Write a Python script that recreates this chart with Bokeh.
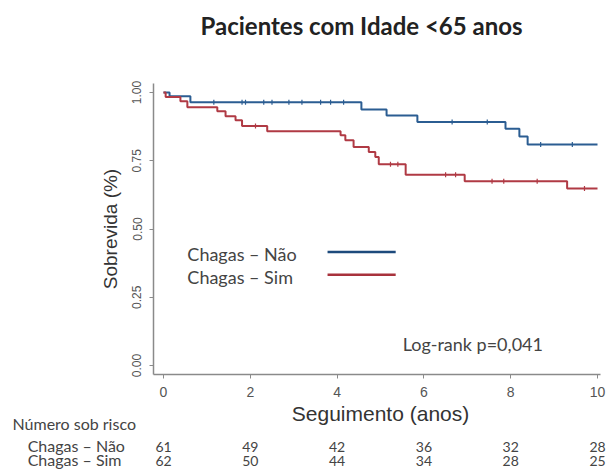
import numpy as np
from bokeh.plotting import figure
from bokeh.models import Range1d, FixedTicker, Label
from bokeh.core.properties import value
from bokeh.embed import file_html
from bokeh.resources import INLINE

# ---- data ----
title = "Pacientes com Idade <65 anos"
groups = ["Chagas – Não", "Chagas – Sim"]

nao_t = [0, 0.14, 0.62, 4.56, 5.14, 5.85, 7.88, 8.20, 8.39, 10.0]
nao_s = [1.0, 0.986, 0.964, 0.938, 0.916, 0.892, 0.867, 0.839, 0.810, 0.810]
nao_cens = [1.16, 1.81, 1.89, 2.31, 2.50, 2.89, 3.19, 3.62, 3.85, 4.15, 6.65, 7.46, 8.69, 9.42]

sim_t = [0, 0.05, 0.39, 0.55, 1.24, 1.43, 1.66, 1.81, 2.39, 4.08, 4.19, 4.38,
         4.73, 4.88, 4.96, 5.58, 6.94, 9.30, 10.0]
sim_s = [1.0, 0.984, 0.968, 0.946, 0.931, 0.913, 0.898, 0.877, 0.858, 0.843, 0.825,
         0.800, 0.782, 0.764, 0.737, 0.699, 0.675, 0.648, 0.648]
sim_cens = [2.12, 5.23, 5.40, 6.50, 6.73, 7.57, 7.84, 8.61, 9.70]

x_ticks = [0, 2, 4, 6, 8, 10]
y_ticks = [0.0, 0.25, 0.5, 0.75, 1.0]
risk_nao = [61, 49, 42, 36, 32, 28]
risk_sim = [62, 50, 44, 34, 28, 25]
logrank = "Log-rank p=0,041"
x_label = "Seguimento (anos)"
y_label = "Sobrevida (%)"
risk_title = "Número sob risco"

BLUE = "#2b5d92"
RED = "#b03a44"
BLUE_L = "#1d4a7c"
RED_L = "#a8323c"
FONT = "Lato"
AFONT = "Liberation Sans"

W = 608
H0 = 50     # title strip
H1 = 349    # plot
H2 = 71     # x title + number-at-risk table


def blank(fig):
    fig.grid.visible = False
    fig.outline_line_color = None
    fig.background_fill_color = "white"
    fig.border_fill_color = "white"


# ---- title strip ----
t = figure(width=W, height=H0, output_backend="svg", toolbar_location=None,
           x_range=Range1d(0, W), y_range=Range1d(H0, 0),
           x_axis_location=None, y_axis_location=None,
           min_border_left=0, min_border_right=0, min_border_top=0, min_border_bottom=0)
blank(t)
t.text(x=[200], y=[25], text=[title], text_font=value(FONT), text_font_size="24px",
       text_font_style="bold", text_color="#222222", text_align="left", text_baseline="middle")

# ---- main plot ----
p = figure(width=W, height=H1, output_backend="svg", toolbar_location=None,
           x_range=Range1d(-0.230, 10.069), y_range=Range1d(-0.033, 1.033),
           min_border_left=153, min_border_right=8, min_border_top=33, min_border_bottom=24)
blank(p)


def surv_at(ts, ss, tt):
    i = np.searchsorted(ts, tt, side="right") - 1
    return ss[i]


for ts, ss, cens, col in [(nao_t, nao_s, nao_cens, BLUE), (sim_t, sim_s, sim_cens, RED)]:
    p.step(ts, ss, mode="after", line_color=col, line_width=2)
    cy = [surv_at(np.array(ts), ss, c) for c in cens]
    p.scatter(cens, cy, marker="dash", angle=np.pi / 2, size=5, line_color=col, line_width=1.2)

ax = p.xaxis[0]
ax.ticker = FixedTicker(ticks=x_ticks)
ay = p.yaxis[0]
ay.ticker = FixedTicker(ticks=y_ticks)
ay.major_label_overrides = {tk: f"{tk:.2f}" for tk in y_ticks}
ay.major_label_orientation = "vertical"
ay.axis_label = y_label
for a in (ax, ay):
    a.axis_line_color = "#8a8a8a"
    a.axis_line_width = 1.5
    a.major_tick_line_color = "#8a8a8a"
    a.major_tick_out = 4
    a.major_tick_in = 0
    a.minor_tick_line_color = None
    a.major_label_text_font = AFONT
    a.major_label_text_color = "#555555"
    a.axis_label_text_font = AFONT
    a.axis_label_text_font_size = "19px"
    a.axis_label_text_font_style = "normal"
    a.axis_label_text_color = "#333333"
ax.major_label_text_font_size = "14px"
ay.major_label_text_font_size = "12px"
ax.major_label_standoff = 8
ay.major_label_standoff = 8
ay.axis_label_standoff = 9

# legend (label, then line)
for g, yy, col in [(groups[0], 0.409, BLUE_L), (groups[1], 0.325, RED_L)]:
    p.add_layout(Label(x=0.55, y=yy, text=g, text_font=FONT, text_font_size="18px",
                       text_color="#444444", text_baseline="middle"))
    p.segment(x0=[3.78], y0=[yy + 0.007], x1=[5.35], y1=[yy + 0.007], line_color=col, line_width=2.5)

p.add_layout(Label(x=5.51, y=0.077, text=logrank, text_font=FONT, text_font_size="18px",
                   text_color="#444444", text_baseline="middle"))

# ---- lower strip: x-axis title and number-at-risk table (pixel coordinates) ----
Y0 = H0 + H1
q = figure(width=W, height=H2, output_backend="svg", toolbar_location=None,
           x_range=Range1d(-3.756, 10.253), y_range=Range1d(Y0 + H2, Y0),
           x_axis_location=None, y_axis_location=None,
           min_border_left=0, min_border_right=0, min_border_top=0, min_border_bottom=0)
blank(q)

q.text(x=[5.0], y=[413], text=[x_label], text_font=value(AFONT), text_font_size="21px",
       text_color="#333333", text_align="center", text_baseline="middle")
q.text(x=[-3.48], y=[423], text=[risk_title], text_font=value(FONT), text_font_size="16px",
       text_color="#444444", text_align="left", text_baseline="middle")
q.text(x=[-3.13, -3.13], y=[445, 459], text=groups, text_font=value(FONT), text_font_size="16px",
       text_color="#444444", text_align="left", text_baseline="middle")
q.text(x=x_ticks, y=[446] * len(x_ticks), text=[str(v) for v in risk_nao], text_font=value(FONT),
       text_font_size="14px", text_color="#444444", text_align="center", text_baseline="middle")
q.text(x=x_ticks, y=[460] * len(x_ticks), text=[str(v) for v in risk_sim], text_font=value(FONT),
       text_font_size="14px", text_color="#444444", text_align="center", text_baseline="middle")

open("out.html", "w").write(file_html([t, p, q], INLINE))
